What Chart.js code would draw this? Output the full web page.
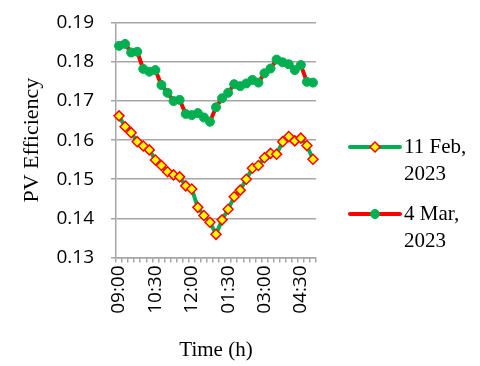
<!DOCTYPE html>
<html>
<head>
<meta charset="utf-8">
<script src="https://cdn.jsdelivr.net/npm/chart.js@4.4.1/dist/chart.umd.min.js"></script>
<style>
html,body{margin:0;padding:0;background:#fff;}
#wrap{width:480px;height:366px;position:relative;}
</style>
</head>
<body>
<div id="wrap"><canvas id="c" width="480" height="366"></canvas></div>
<script>
const timeLabels = ['09:00','09:15','09:30','09:45','10:00','10:15','10:30','10:45','11:00','11:15','11:30','11:45','12:00','12:15','12:30','12:45','01:00','01:15','01:30','01:45','02:00','02:15','02:30','02:45','03:00','03:15','03:30','03:45','04:00','04:15','04:30','04:45','05:00'];
const seriesNames = [['11 Feb,','2023'], ['4 Mar,','2023']];
const feb11 = [0.1662,0.1634,0.1619,0.1596,0.1585,0.1575,0.1549,0.1535,0.1519,0.1511,0.1506,0.1483,0.1475,0.1428,0.1407,0.1390,0.1359,0.1396,0.1423,0.1455,0.1472,0.1500,0.1528,0.1535,0.1555,0.1566,0.1564,0.1596,0.1609,0.1598,0.1605,0.1586,0.1551];
const mar4 = [0.1841,0.1846,0.1824,0.1826,0.1782,0.1775,0.1779,0.1741,0.1721,0.1700,0.1703,0.1667,0.1664,0.1669,0.1658,0.1647,0.1684,0.1707,0.1721,0.1743,0.1738,0.1745,0.1754,0.1747,0.1771,0.1783,0.1806,0.1799,0.1794,0.1779,0.1792,0.1749,0.1747];
const yTicks = [0.13,0.14,0.15,0.16,0.17,0.18,0.19];

const GRID = '#a6a6a6';

const legendPlugin = {
  id: 'sideLegend',
  afterDraw(chart) {
    const ctx = chart.ctx;
    const ys = [147, 214];
    chart.data.datasets.forEach((ds, i) => {
      const y = ys[i];
      const x0 = 350, x1 = 400;
      ctx.save();
      ctx.strokeStyle = ds.borderColor;
      ctx.lineWidth = ds.borderWidth;
      ctx.lineCap = 'round';
      ctx.beginPath(); ctx.moveTo(x0, y); ctx.lineTo(x1, y); ctx.stroke();
      ctx.fillStyle = ds.pointBackgroundColor;
      ctx.strokeStyle = ds.pointBorderColor;
      ctx.lineWidth = ds.pointBorderWidth;
      Chart.helpers.drawPoint(ctx, {pointStyle: ds.pointStyle, radius: ds.pointRadius, borderWidth: ds.pointBorderWidth, rotation: 0}, (x0 + x1) / 2, y);
      ctx.fillStyle = '#000';
      ctx.font = '21px "Liberation Serif"';
      ctx.textBaseline = 'middle';
      ctx.textAlign = 'left';
      seriesNames[i].forEach((t, k) => ctx.fillText(t, 404, y + k * 27));
      ctx.restore();
    });
  }
};

function zeroPad(s) { s.paddingTop = 0; s.paddingBottom = 0; s.paddingLeft = 0; s.paddingRight = 0; }

new Chart(document.getElementById('c'), {
  type: 'line',
  data: {
    labels: timeLabels,
    datasets: [
      {
        label: seriesNames[0].join(' '),
        data: feb11,
        borderColor: '#00b050',
        borderWidth: 4,
        pointStyle: 'rectRot',
        pointRadius: 5,
        pointBackgroundColor: '#ffff00',
        pointBorderColor: '#ff0000',
        pointBorderWidth: 1.5,
        tension: 0
      },
      {
        label: seriesNames[1].join(' '),
        data: mar4,
        borderColor: '#ff0000',
        borderWidth: 4,
        pointStyle: 'circle',
        pointRadius: 4.5,
        pointBackgroundColor: '#00b050',
        pointBorderColor: '#00b050',
        pointBorderWidth: 1,
        tension: 0
      }
    ]
  },
  options: {
    responsive: false,
    animation: false,
    events: [],
    layout: { padding: { left: 0, right: 164, top: 22.8, bottom: 0 } },
    plugins: { legend: { display: false }, tooltip: { enabled: false } },
    scales: {
      x: {
        type: 'category',
        offset: true,
        afterFit: s => { s.height = 108.6; zeroPad(s); },
        grid: { offset: true, drawOnChartArea: false, drawTicks: true, tickLength: 5, color: GRID, lineWidth: 1.5 },
        border: { color: GRID, width: 1.5 },
        ticks: {
          autoSkip: false, maxRotation: 90, minRotation: 90, padding: 3,
          color: '#000', font: { family: '"Open Sans"', size: 19 },
          callback: function(v, i) { return i % 6 === 0 ? timeLabels[i] : ''; }
        },
        title: { display: true, text: 'Time (h)', color: '#000', font: { family: '"Liberation Serif"', size: 21 }, padding: { top: 0, bottom: 3 } }
      },
      y: {
        min: 0.13, max: 0.19,
        afterFit: s => { s.width = 116; zeroPad(s); },
        afterBuildTicks: s => { s.ticks = yTicks.map(v => ({ value: v })); },
        grid: { color: GRID, lineWidth: 1.5, drawTicks: true, tickLength: 5 },
        border: { color: GRID, width: 1.5 },
        ticks: { padding: 17, color: '#000', font: { family: '"Open Sans"', size: 19 }, callback: v => v.toFixed(2) },
        title: { display: true, text: 'PV Efficiency', color: '#000', font: { family: '"Liberation Serif"', size: 22 }, padding: { top: 19, bottom: 0 } }
      }
    }
  },
  plugins: [legendPlugin]
});
</script>
</body>
</html>
